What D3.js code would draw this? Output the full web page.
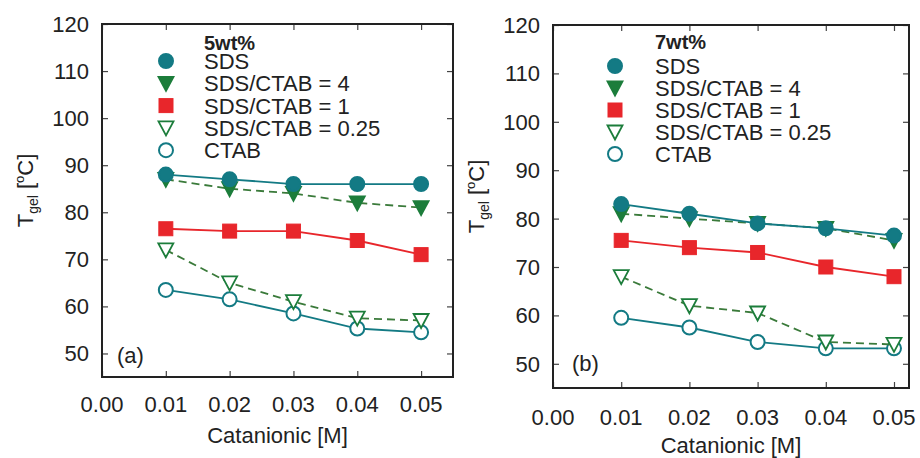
<!DOCTYPE html>
<html><head><meta charset="utf-8">
<script src="https://cdn.jsdelivr.net/npm/d3@7/dist/d3.min.js"></script>
<style>body{margin:0;background:#fff}svg{display:block}text{font-family:"Liberation Sans",Arial,sans-serif;fill:#222}</style>
</head><body><svg id="c" width="920" height="458"></svg>
<script>
const concentrations = [0.01, 0.02, 0.03, 0.04, 0.05];
const xTicks = [0.00, 0.01, 0.02, 0.03, 0.04, 0.05];
const yTicks = [50, 60, 70, 80, 90, 100, 110, 120];
const seriesNames = ["SDS", "SDS/CTAB = 4", "SDS/CTAB = 1", "SDS/CTAB = 0.25", "CTAB"];
// panel (a) 5wt%
const a_SDS = [88, 87, 86, 86, 86];
const a_R4 = [87, 85, 84, 82, 81];
const a_R1 = [76.5, 76, 76, 74, 71];
const a_R025 = [72, 65, 61, 57.5, 57];
const a_CTAB = [63.5, 61.5, 58.5, 55.3, 54.5];
// panel (b) 7wt%
const b_SDS = [83, 81, 79, 78, 76.5];
const b_R4 = [81, 80, 79, 78, 75.5];
const b_R1 = [75.5, 74, 73, 70, 68];
const b_R025 = [68, 62, 60.5, 54.5, 54];
const b_CTAB = [59.5, 57.5, 54.5, 53.2, 53.2];

const TEAL = "#137a84", GREEN = "#1c7d3b", RED = "#e8262b", DGREEN = "#3a7a3a";
const styles = [
  {marker:"circle", fill:TEAL, stroke:TEAL, line:TEAL, dash:null},
  {marker:"tri", fill:GREEN, stroke:GREEN, line:DGREEN, dash:"8,5"},
  {marker:"square", fill:RED, stroke:RED, line:RED, dash:null},
  {marker:"tri", fill:"#fff", stroke:GREEN, line:DGREEN, dash:"8,5"},
  {marker:"circle", fill:"#fff", stroke:TEAL, line:TEAL, dash:null}
];

const panels = [
  {title:"5wt%", tag:"(a)", data:[a_SDS,a_R4,a_R1,a_R025,a_CTAB], x0:102, x1:453, y0:24, y1:377, xmax:0.055,
   legX:166, legTxt:204, legTitleY:50, legY0:69, legDy:22.3, tagX:117, tagY:363, tickLabY:412, xTitleY:443, yTitleX:33},
  {title:"7wt%", tag:"(b)", data:[b_SDS,b_R4,b_R1,b_R025,b_CTAB], x0:553, x1:909, y0:25, y1:388, xmax:0.0522,
   legX:615, legTxt:655, legTitleY:49, legY0:74, legDy:22, tagX:572, tagY:371, tickLabY:425, xTitleY:453, yTitleX:484}
];

const svg = d3.select("#c");

function drawMarker(g, type, cx, cy, st) {
  if (type === "circle") {
    g.append("circle").attr("cx",cx).attr("cy",cy).attr("r",7)
      .attr("fill",st.fill).attr("stroke",st.stroke).attr("stroke-width",2);
  } else if (type === "square") {
    g.append("rect").attr("x",cx-7).attr("y",cy-7).attr("width",14).attr("height",14)
      .attr("fill",st.fill).attr("stroke",st.stroke).attr("stroke-width",1);
  } else {
    const h = 6.5;
    g.append("path").attr("d",`M${cx-7.5},${cy-h}L${cx+7.5},${cy-h}L${cx},${cy+h+1}Z`)
      .attr("fill",st.fill).attr("stroke",st.stroke).attr("stroke-width",1.8).attr("stroke-linejoin","miter");
  }
}

panels.forEach(p => {
  const x = d3.scaleLinear().domain([0, p.xmax]).range([p.x0, p.x1]);
  const y = d3.scaleLinear().domain([45, 120]).range([p.y1, p.y0]);
  const g = svg.append("g");

  const tl = 6;
  const axB = d3.axisBottom(x).tickValues(xTicks).tickSize(-tl).tickFormat("");
  const axT = d3.axisTop(x).tickValues(xTicks).tickSize(-tl).tickFormat("");
  const axL = d3.axisLeft(y).tickValues(yTicks).tickSize(-tl).tickFormat("");
  const axR = d3.axisRight(y).tickValues(yTicks).tickSize(-tl).tickFormat("");
  [[axB,`translate(0,${p.y1})`],[axT,`translate(0,${p.y0})`],[axL,`translate(${p.x0},0)`],[axR,`translate(${p.x1},0)`]].forEach(([ax,tr])=>{
    const a = g.append("g").attr("transform",tr).call(ax);
    a.select(".domain").remove();
    a.selectAll("line").attr("stroke","#444").attr("stroke-width",1.2);
  });

  g.selectAll(".xl").data(xTicks).enter().append("text")
    .attr("x",d=>x(d)).attr("y",p.tickLabY).attr("text-anchor","middle").attr("font-size",22)
    .text(d=>d3.format(".2f")(d));
  g.selectAll(".yl").data(yTicks).enter().append("text")
    .attr("x",p.x0-13).attr("y",d=>y(d)+8).attr("text-anchor","end").attr("font-size",22)
    .text(d=>d);

  g.append("rect").attr("x",p.x0).attr("y",p.y0).attr("width",p.x1-p.x0).attr("height",p.y1-p.y0)
    .attr("fill","none").attr("stroke","#222").attr("stroke-width",2);

  g.append("text").attr("x",(p.x0+p.x1)/2).attr("y",p.xTitleY).attr("text-anchor","middle")
    .attr("font-size",22).text("Catanionic [M]");
  const yt = g.append("text").attr("transform",`translate(${p.yTitleX},${(p.y0+p.y1)/2-10}) rotate(-90)`)
    .attr("text-anchor","middle").attr("font-size",22);
  yt.append("tspan").text("T");
  yt.append("tspan").attr("font-size",14).attr("dy",5).text("gel");
  yt.append("tspan").attr("dy",-5).text(" [");
  yt.append("tspan").attr("font-size",13).attr("dy",-9).text("o");
  yt.append("tspan").attr("dy",9).text("C]");

  const line = d3.line().x(d=>x(d[0])).y(d=>y(d[1]));
  [4,3,2,1,0].forEach(i => {
    const st = styles[i];
    const pts = concentrations.map((c,k)=>[c,p.data[i][k]]);
    g.append("path").attr("d",line(pts)).attr("fill","none").attr("stroke",st.line)
      .attr("stroke-width",1.8).attr("stroke-dasharray",st.dash);
    pts.forEach(pt => drawMarker(g, st.marker, x(pt[0]), y(pt[1]), st));
  });

  g.append("text").attr("x",p.legTxt).attr("y",p.legTitleY).attr("font-size",20).attr("font-weight","bold").text(p.title);
  seriesNames.forEach((n,i)=>{
    const by = p.legY0 + i*p.legDy;
    drawMarker(g, styles[i].marker, p.legX, by-8, styles[i]);
    g.append("text").attr("x",p.legTxt).attr("y",by).attr("font-size",22).text(n);
  });

  g.append("text").attr("x",p.tagX).attr("y",p.tagY).attr("font-size",22).text(p.tag);
});
</script></body></html>
